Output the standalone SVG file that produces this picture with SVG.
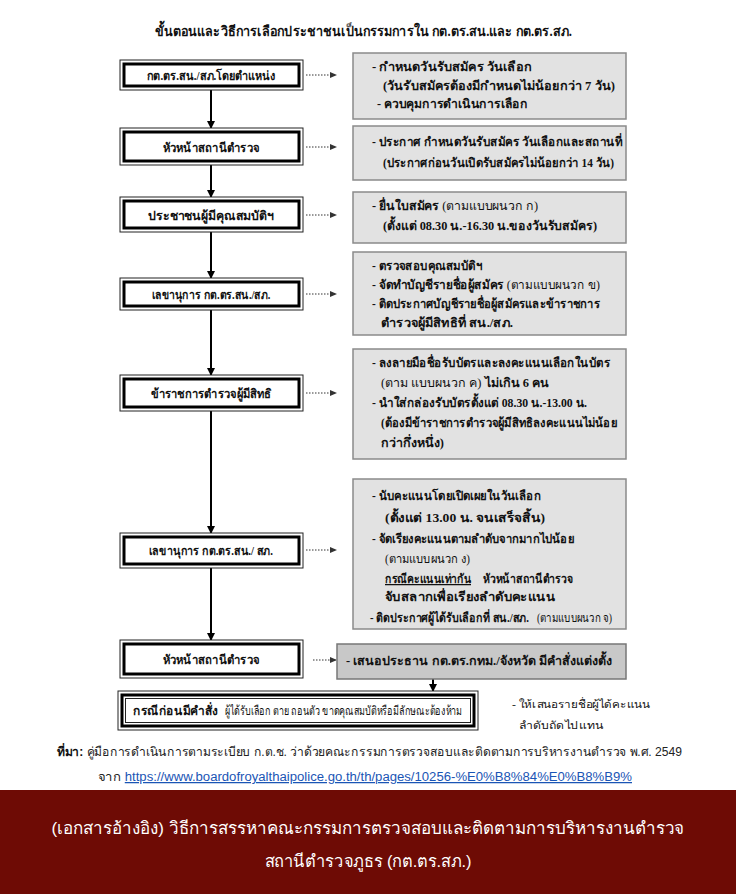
<svg xmlns="http://www.w3.org/2000/svg" width="736" height="894" viewBox="0 0 736 894">
<style>
text{font-family:"Liberation Serif","DejaVu Serif",serif;fill:#111}
.t{font-size:14px;font-weight:bold}
.b{font-size:12.5px;font-weight:bold}
.n{font-weight:normal}
.node{text-anchor:middle;font-size:12.5px;font-weight:bold}
.gbox{fill:#e2e2e2;stroke:#8a8a8a;stroke-width:1.5}
.outer{fill:#fff;stroke:#222;stroke-width:1}
.inner{fill:none;stroke:#000;stroke-width:3}
.flow{stroke:#000;stroke-width:2;fill:none}
.dot{stroke:#333;stroke-width:1;stroke-dasharray:1.5 1.5;fill:none}
.src{font-family:"Liberation Sans","DejaVu Sans",sans-serif;font-size:12.5px;fill:#222}
.ban{font-family:"Liberation Sans","DejaVu Sans",sans-serif;font-size:17px;fill:#fff;text-anchor:middle}
</style>
<defs>
<marker id="ah" markerWidth="8" markerHeight="8" refX="7" refY="4" orient="auto" markerUnits="userSpaceOnUse">
<path d="M0,0 L8,4 L0,8 z" fill="#000"/>
</marker>
<marker id="dh" markerWidth="7" markerHeight="6" refX="6" refY="3" orient="auto" markerUnits="userSpaceOnUse">
<path d="M0,0 L7,3 L0,6 z" fill="#333"/>
</marker>
</defs>
<rect width="736" height="894" fill="#fff"/>
<text x="155" y="36" class="t" textLength="417" lengthAdjust="spacingAndGlyphs">ขั้นตอนและวิธีการเลือกประชาชนเป็นกรรมการใน กต.ตร.สน.และ กต.ตร.สภ.</text>

<g id="connectors">
<line class="flow" x1="211" y1="90" x2="211" y2="128" marker-end="url(#ah)"/>
<line class="flow" x1="211" y1="165" x2="211" y2="197" marker-end="url(#ah)"/>
<line class="flow" x1="211" y1="232" x2="211" y2="278" marker-end="url(#ah)"/>
<line class="flow" x1="211" y1="310" x2="211" y2="375" marker-end="url(#ah)"/>
<line class="flow" x1="211" y1="411" x2="211" y2="533" marker-end="url(#ah)"/>
<line class="flow" x1="211" y1="568" x2="211" y2="640" marker-end="url(#ah)"/>
<line class="flow" x1="433" y1="679" x2="433" y2="691" marker-end="url(#ah)"/>
<line class="dot" x1="306" y1="75" x2="336" y2="75" marker-end="url(#dh)"/>
<line class="dot" x1="306" y1="147" x2="336" y2="147" marker-end="url(#dh)"/>
<line class="dot" x1="306" y1="215" x2="336" y2="215" marker-end="url(#dh)"/>
<line class="dot" x1="306" y1="294" x2="336" y2="294" marker-end="url(#dh)"/>
<line class="dot" x1="306" y1="393" x2="336" y2="393" marker-end="url(#dh)"/>
<line class="dot" x1="306" y1="550" x2="336" y2="550" marker-end="url(#dh)"/>
<line class="dot" x1="313" y1="660" x2="336" y2="660" marker-end="url(#dh)"/>
</g>

<g id="n1">
<rect class="outer" x="120" y="60" width="183" height="30"/>
<rect class="inner" x="124" y="64" width="175" height="22"/>
<text class="node" x="211" y="80" textLength="129" lengthAdjust="spacingAndGlyphs">กต.ตร.สน./สภ.โดยตำแหน่ง</text>
</g>
<g id="n2">
<rect class="outer" x="120" y="128" width="183" height="37"/>
<rect class="inner" x="124" y="132" width="175" height="29"/>
<text class="node" x="211" y="152" textLength="97" lengthAdjust="spacingAndGlyphs">หัวหน้าสถานีตำรวจ</text>
</g>
<g id="n3">
<rect class="outer" x="120" y="197" width="183" height="35"/>
<rect class="inner" x="124" y="201" width="175" height="27"/>
<text class="node" x="211" y="220" textLength="126" lengthAdjust="spacingAndGlyphs">ประชาชนผู้มีคุณสมบัติฯ</text>
</g>
<g id="n4">
<rect class="outer" x="120" y="278" width="183" height="32"/>
<rect class="inner" x="124" y="282" width="175" height="24"/>
<text class="node" x="211" y="299" textLength="119" lengthAdjust="spacingAndGlyphs">เลขานุการ กต.ตร.สน./สภ.</text>
</g>
<g id="n5">
<rect class="outer" x="120" y="375" width="183" height="36"/>
<rect class="inner" x="124" y="379" width="175" height="28"/>
<text class="node" x="211" y="398" textLength="121" lengthAdjust="spacingAndGlyphs">ข้าราชการตำรวจผู้มีสิทธิ</text>
</g>
<g id="n6">
<rect class="outer" x="120" y="533" width="183" height="35"/>
<rect class="inner" x="124" y="537" width="175" height="27"/>
<text class="node" x="211" y="555" textLength="124" lengthAdjust="spacingAndGlyphs">เลขานุการ กต.ตร.สน./ สภ.</text>
</g>
<g id="n7">
<rect class="outer" x="120" y="640" width="183" height="38"/>
<rect class="inner" x="124" y="644" width="175" height="30"/>
<text class="node" x="211" y="664" textLength="97" lengthAdjust="spacingAndGlyphs">หัวหน้าสถานีตำรวจ</text>
</g>
<g id="n8">
<rect class="outer" x="118" y="691" width="360" height="39"/>
<rect class="inner" x="122" y="695" width="352" height="31"/>
<rect fill="none" stroke="#222" stroke-width="1" x="125.5" y="698.5" width="345" height="24"/>
<text class="b" x="133" y="715" textLength="85" lengthAdjust="spacingAndGlyphs">กรณีก่อนมีคำสั่ง</text>
<text class="b n" x="225" y="715" font-size="10" textLength="237" lengthAdjust="spacingAndGlyphs">ผู้ได้รับเลือก ตาย ถอนตัว ขาดคุณสมบัติหรือมีลักษณะต้องห้าม</text>
</g>

<g id="r1">
<rect class="gbox" x="353" y="53" width="273" height="66"/>
<text class="b" x="372" y="71" textLength="160" lengthAdjust="spacingAndGlyphs">- กำหนดวันรับสมัคร วันเลือก</text>
<text class="b" x="383" y="90" textLength="232" lengthAdjust="spacingAndGlyphs">(วันรับสมัครต้องมีกำหนดไม่น้อยกว่า 7 วัน)</text>
<text class="b" x="377" y="108" textLength="151" lengthAdjust="spacingAndGlyphs">- ควบคุมการดำเนินการเลือก</text>
</g>
<g id="r2">
<rect class="gbox" x="353" y="126" width="273" height="54"/>
<text class="b" x="372" y="146" textLength="250" lengthAdjust="spacingAndGlyphs">- ประกาศ กำหนดวันรับสมัคร วันเลือกและสถานที่</text>
<text class="b" x="383" y="167" textLength="231" lengthAdjust="spacingAndGlyphs">(ประกาศก่อนวันเปิดรับสมัครไม่น้อยกว่า 14 วัน)</text>
</g>
<g id="r3">
<rect class="gbox" x="353" y="192" width="273" height="51"/>
<text class="b" x="372" y="210" textLength="166" lengthAdjust="spacingAndGlyphs">- ยื่นใบสมัคร <tspan class="n">(ตามแบบผนวก ก)</tspan></text>
<text class="b" x="383" y="230" textLength="214" lengthAdjust="spacingAndGlyphs">(ตั้งแต่ 08.30 น.-16.30 น.ของวันรับสมัคร)</text>
</g>
<g id="r4">
<rect class="gbox" x="353" y="252" width="273" height="83"/>
<text class="b" x="372" y="270" textLength="110" lengthAdjust="spacingAndGlyphs">- ตรวจสอบคุณสมบัติฯ</text>
<text class="b" x="372" y="289" textLength="228" lengthAdjust="spacingAndGlyphs">- จัดทำบัญชีรายชื่อผู้สมัคร <tspan class="n">(ตามแบบผนวก ข)</tspan></text>
<text class="b" x="372" y="308" textLength="228" lengthAdjust="spacingAndGlyphs">- ติดประกาศบัญชีรายชื่อผู้สมัครและข้าราชการ</text>
<text class="b" x="381" y="327" textLength="132" lengthAdjust="spacingAndGlyphs">ตำรวจผู้มีสิทธิที่ สน./สภ.</text>
</g>
<g id="r5">
<rect class="gbox" x="353" y="349" width="273" height="110"/>
<text class="b" x="372" y="367" textLength="238" lengthAdjust="spacingAndGlyphs">- ลงลายมือชื่อรับบัตรและลงคะแนนเลือกในบัตร</text>
<text class="b" x="381" y="387" textLength="168" lengthAdjust="spacingAndGlyphs"><tspan class="n">(ตาม แบบผนวก ค)</tspan> ไม่เกิน 6  คน</text>
<text class="b" x="372" y="407" textLength="215" lengthAdjust="spacingAndGlyphs">- นำใส่กล่องรับบัตรตั้งแต่ 08.30 น.-13.00 น.</text>
<text class="b" x="381" y="427" textLength="236" lengthAdjust="spacingAndGlyphs">(ต้องมีข้าราชการตำรวจผู้มีสิทธิลงคะแนนไม่น้อย</text>
<text class="b" x="381" y="447" textLength="63" lengthAdjust="spacingAndGlyphs">กว่ากึ่งหนึ่ง)</text>
</g>
<g id="r6">
<rect class="gbox" x="353" y="479" width="273" height="150"/>
<text class="b" x="372" y="500" textLength="169" lengthAdjust="spacingAndGlyphs">- นับคะแนนโดยเปิดเผยในวันเลือก</text>
<text class="b" x="385" y="522" textLength="160" lengthAdjust="spacingAndGlyphs">(ตั้งแต่ 13.00 น. จนเสร็จสิ้น)</text>
<text class="b" x="372" y="543" textLength="202" lengthAdjust="spacingAndGlyphs">- จัดเรียงคะแนนตามลำดับจากมากไปน้อย</text>
<text class="b n" x="385" y="563" textLength="85" lengthAdjust="spacingAndGlyphs">(ตามแบบผนวก ง)</text>
<text class="b" x="385" y="583" textLength="86" lengthAdjust="spacingAndGlyphs" text-decoration="underline">กรณีคะแนนเท่ากัน</text>
<text class="b" x="483" y="583" textLength="90" lengthAdjust="spacingAndGlyphs">หัวหน้าสถานีตำรวจ</text>
<text class="b" x="385" y="601" textLength="170" lengthAdjust="spacingAndGlyphs">จับสลากเพื่อเรียงลำดับคะแนน</text>
<text class="b" x="370" y="622" font-size="11" textLength="159" lengthAdjust="spacingAndGlyphs">- ติดประกาศผู้ได้รับเลือกที่ สน./สภ.</text>
<text class="b n" x="537" y="622" font-size="10.5" textLength="75" lengthAdjust="spacingAndGlyphs">(ตามแบบผนวก จ)</text>
</g>
<g id="r7">
<rect x="337" y="644" width="289" height="35" fill="#c8c8c8" stroke="#777" stroke-width="1.5"/>
<text class="b" x="346" y="665" textLength="266" lengthAdjust="spacingAndGlyphs">- เสนอประธาน กต.ตร.กทม./จังหวัด มีคำสั่งแต่งตั้ง</text>
</g>
<g id="note">
<text x="512" y="708" font-size="10.5" textLength="138" lengthAdjust="spacingAndGlyphs">- ให้เสนอรายชื่อผู้ได้คะแนน</text>
<text x="519" y="729" font-size="10.5" textLength="84" lengthAdjust="spacingAndGlyphs">ลำดับถัดไปแทน</text>
</g>

<g id="source">
<text class="src" x="57" y="756" textLength="625" lengthAdjust="spacingAndGlyphs"><tspan font-weight="bold" fill="#111">ที่มา:</tspan> คู่มือการดำเนินการตามระเบียบ ก.ต.ช. ว่าด้วยคณะกรรมการตรวจสอบและติดตามการบริหารงานตำรวจ พ.ศ. 2549</text>
<text class="src" x="98" y="781" textLength="534" lengthAdjust="spacingAndGlyphs">จาก <tspan fill="#1a55b5" text-decoration="underline">https://www.boardofroyalthaipolice.go.th/th/pages/10256-%E0%B8%84%E0%B8%B9%</tspan></text>
</g>
<g id="banner">
<rect x="0" y="790" width="736" height="104" fill="#6e0b05"/>
<text class="ban" x="368" y="834" textLength="633" lengthAdjust="spacingAndGlyphs">(เอกสารอ้างอิง)  วิธีการสรรหาคณะกรรมการตรวจสอบและติดตามการบริหารงานตำรวจ</text>
<text class="ban" x="368" y="867" textLength="207" lengthAdjust="spacingAndGlyphs">สถานีตำรวจภูธร (กต.ตร.สภ.)</text>
</g>
</svg>
